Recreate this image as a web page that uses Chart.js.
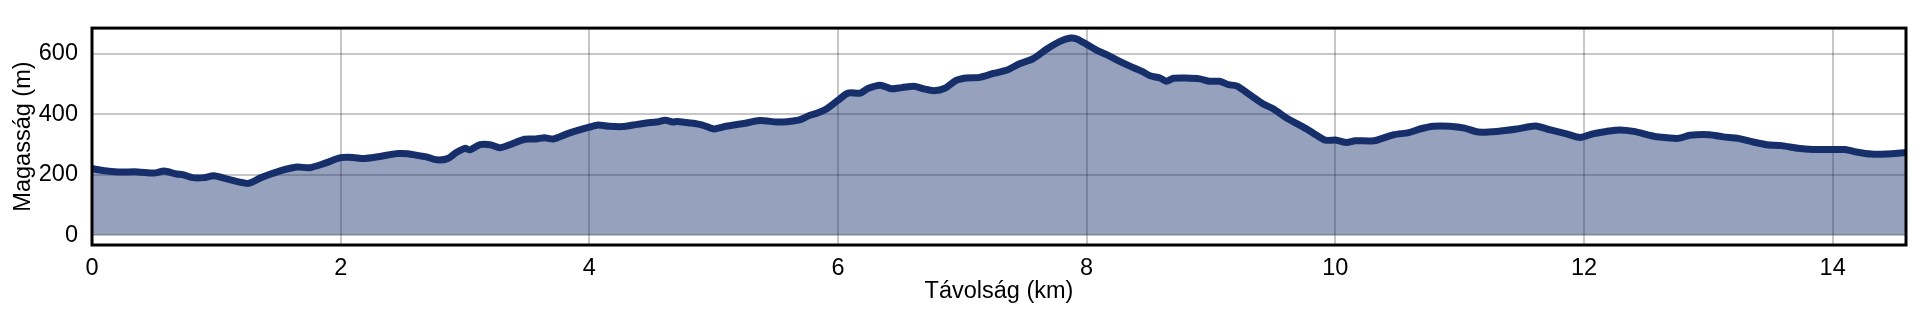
<!DOCTYPE html>
<html>
<head>
<meta charset="utf-8">
<title>Magassági profil</title>
<script src="https://cdn.jsdelivr.net/npm/chart.js@4"></script>
<style>
    html, body { margin: 0; padding: 0; background: #fff; }
    #wrap { width: 1920px; height: 320px; position: relative; }
</style>
</head>
<body>
<div id="wrap"><canvas id="profile"></canvas></div>
<script>
// distance along route (km)
const distances = [
    0.00, 0.10, 0.21, 0.37, 0.50, 0.58, 0.68, 0.73, 0.81, 0.90, 0.98, 1.09, 1.25, 1.36, 1.52, 1.65, 1.75, 1.87,
    2.00, 2.10, 2.18, 2.30, 2.38, 2.46, 2.54, 2.64, 2.69, 2.77, 2.86, 2.93, 3.00, 3.04, 3.12, 3.20, 3.28, 3.36,
    3.48, 3.57, 3.64, 3.71, 3.82, 3.92, 4.00, 4.07, 4.16, 4.27, 4.35, 4.46, 4.54, 4.61, 4.67, 4.71, 4.81, 4.91,
    5.00, 5.05, 5.10, 5.24, 5.37, 5.51, 5.59, 5.69, 5.77, 5.83, 5.91, 6.00, 6.08, 6.18, 6.24, 6.34, 6.43, 6.51,
    6.56, 6.62, 6.69, 6.77, 6.86, 6.95, 7.03, 7.14, 7.25, 7.36, 7.46, 7.57, 7.68, 7.79, 7.87, 7.92, 8.00, 8.08,
    8.16, 8.27, 8.37, 8.45, 8.51, 8.59, 8.64, 8.70, 8.80, 8.91, 8.99, 9.07, 9.14, 9.21, 9.31, 9.42, 9.50, 9.61,
    9.69, 9.77, 9.85, 9.92, 10.01, 10.09, 10.16, 10.31, 10.47, 10.59, 10.68, 10.79, 10.92, 11.04, 11.15, 11.30,
    11.46, 11.61, 11.73, 11.86, 11.97, 12.07, 12.18, 12.29, 12.40, 12.53, 12.59, 12.76, 12.85, 13.01, 13.12,
    13.24, 13.35, 13.47, 13.59, 13.72, 13.84, 13.98, 14.10, 14.19, 14.31, 14.43, 14.59
];

// elevation (m)
const elevations = [
    220, 213, 209, 209, 205, 212, 202, 200, 190, 190, 196, 185, 171, 190, 213, 225, 223, 237,
    256, 257, 253, 259, 265, 270, 269, 262, 259, 249, 253, 273, 287, 282, 299, 299, 289, 299,
    317, 318, 322, 318, 335, 348, 357, 364, 360, 359, 364, 371, 374, 380, 374, 376, 371, 364,
    351, 355, 360, 369, 379, 374, 375, 381, 396, 403, 418, 446, 470, 470, 485, 496, 484, 488,
    491, 492, 484, 478, 486, 512, 520, 522, 535, 546, 567, 584, 616, 642, 652, 649, 631, 612,
    597, 574, 555, 541, 527, 520, 509, 519, 520, 517, 509, 509, 498, 493, 465, 434, 418, 387,
    369, 351, 330, 314, 314, 306, 312, 312, 332, 339, 351, 360, 360, 354, 341, 343,
    351, 361, 348, 335, 323, 335, 343, 348, 343, 330, 325, 320, 330, 332, 325,
    320, 309, 299, 296, 287, 283, 283, 283, 275, 268, 268, 273
];

const xTicks = [0, 2, 4, 6, 8, 10, 12, 14];
const yTicks = [0, 200, 400, 600];

const FONT = { family: '"Liberation Sans", Arial, sans-serif', size: 23.5 };

// black frame round the plot area
const frame = {
    id: 'frame',
    afterDraw(chart) {
        const a = chart.chartArea;
        const ctx = chart.ctx;
        ctx.save();
        ctx.strokeStyle = '#000';
        ctx.lineWidth = 3;
        ctx.strokeRect(a.left, a.top, a.right - a.left, a.bottom - a.top);
        ctx.restore();
    }
};

const points = distances.map((d, i) => ({ x: d, y: elevations[i] }));

new Chart(document.getElementById('profile'), {
    type: 'line',
    data: {
        datasets: [{
            data: points,
            borderColor: '#162f6b',
            backgroundColor: 'rgba(26, 51, 112, 0.46)',
            borderWidth: 7,
            fill: 'origin',
            pointRadius: 0,
            tension: 0.25,
            borderJoinStyle: 'round',
            borderCapStyle: 'round'
        }]
    },
    plugins: [frame],
    options: {
        responsive: true,
        maintainAspectRatio: false,
        animation: false,
        layout: { padding: { left: 0, right: 14, top: 15, bottom: 0 } },
        plugins: { legend: { display: false }, tooltip: { enabled: false } },
        scales: {
            x: {
                type: 'linear',
                min: 0,
                max: 14.59,
                afterFit: s => { s.height = 75; },
                afterBuildTicks: s => { s.ticks = xTicks.map(v => ({ value: v })); },
                ticks: { color: '#000', font: FONT, padding: 9, maxRotation: 0 },
                grid: { color: 'rgba(0,0,0,0.22)', lineWidth: 2, drawTicks: false },
                border: { display: false },
                title: { display: true, text: 'Távolság (km)', color: '#000', font: FONT, padding: { top: 0, bottom: 14 } }
            },
            y: {
                min: -33,
                max: 685,
                afterFit: s => { s.width = 92; },
                afterBuildTicks: s => { s.ticks = yTicks.map(v => ({ value: v })); },
                ticks: { color: '#000', font: FONT, padding: 14 },
                grid: { color: 'rgba(0,0,0,0.22)', lineWidth: 2, drawTicks: false },
                border: { display: false },
                title: { display: true, text: 'Magasság (m)', color: '#000', font: FONT, padding: { top: 9, bottom: 0 } }
            }
        }
    }
});
</script>
</body>
</html>
